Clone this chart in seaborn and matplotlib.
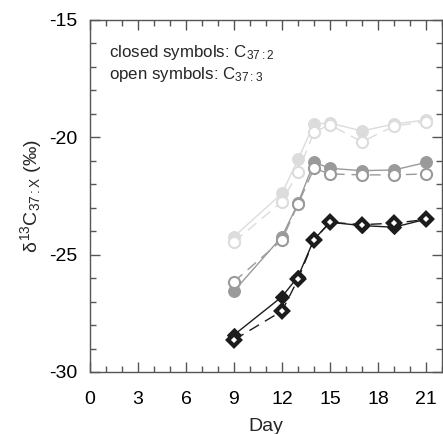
import matplotlib
matplotlib.use("Agg")
import matplotlib.pyplot as plt
from matplotlib.ticker import MultipleLocator
import numpy as np
import pandas as pd
import seaborn as sns

# Sampling days
days = [9, 12, 13, 14, 15, 17, 19, 21]

# delta13C of C37:2 (closed) and C37:3 (open) for three cultures
light_c372 = [-24.23, -22.39, -20.94, -19.43, -19.39, -19.73, -19.43, -19.26]
light_c373 = [-24.45, -22.74, -21.49, -19.77, -19.47, -20.19, -19.52, -19.33]
mid_c372 = [-26.55, -24.23, -22.81, -21.06, -21.32, -21.42, -21.39, -21.07]
mid_c373 = [-26.15, -24.37, -22.85, -21.32, -21.56, -21.60, -21.60, -21.56]
dark_c372 = [-28.42, -26.79, -25.94, -24.35, -23.62, -23.76, -23.83, -23.49]
dark_c373 = [-28.63, -27.40, -26.05, -24.36, -23.62, -23.72, -23.66, -23.50]

sns.set_style("ticks")
plt.rcParams["font.family"] = ["Liberation Sans", "DejaVu Sans"]
plt.rcParams["mathtext.fontset"] = "custom"
plt.rcParams["mathtext.rm"] = "Liberation Sans"
plt.rcParams["mathtext.it"] = "Liberation Sans"
plt.rcParams["axes.unicode_minus"] = False

fig = plt.figure(figsize=(4.43, 4.34), dpi=100)
ax = fig.add_axes([90 / 443, 1 - 372 / 434, 352 / 443, 352 / 434])

series = [
    (light_c372, "#dcdcdc", "o", True),
    (light_c373, "#dcdcdc", "o", False),
    (mid_c372, "#9a9a9a", "o", True),
    (mid_c373, "#9a9a9a", "o", False),
    (dark_c372, "#1c1c1c", "D", True),
    (dark_c373, "#1c1c1c", "D", False),
]

for i, (vals, col, mk, closed) in enumerate(series):
    df = pd.DataFrame({"Day": days, "d13C": vals})
    line_kws = dict(color=col, lw=1.0, zorder=2 + i)
    if closed:
        sns.lineplot(data=df, x="Day", y="d13C", ax=ax, linestyle="-",
                     marker=mk, markersize=8.5 if mk == "o" else 7.5,
                     markerfacecolor=col, markeredgecolor=col,
                     **line_kws)
    else:
        sns.lineplot(data=df, x="Day", y="d13C", ax=ax, linestyle=(0, (8, 5)),
                     marker=mk, markersize=8.0 if mk == "o" else 6.0,
                     markerfacecolor="white", markeredgecolor=col,
                     markeredgewidth=1.5 if mk == "o" else 3.0,
                     **line_kws)

ax.set_xlim(0, 22)
ax.set_ylim(-30, -15)
ax.xaxis.set_major_locator(MultipleLocator(3))
ax.xaxis.set_minor_locator(MultipleLocator(1))
ax.yaxis.set_major_locator(MultipleLocator(5))
ax.yaxis.set_minor_locator(MultipleLocator(1))

edge = "#555555"
for sp in ax.spines.values():
    sp.set_visible(True)
    sp.set_color(edge)
    sp.set_linewidth(1.0)
ax.tick_params(which="both", direction="in", top=True, right=True,
               color=edge, labelsize=14, labelcolor="black")
ax.tick_params(which="major", length=7, width=1.0)
ax.tick_params(which="minor", length=4, width=1.0)
ax.tick_params(axis="x", which="major", pad=14)
ax.tick_params(axis="y", which="major", pad=9)

ax.set_xlabel("Day", fontsize=14, labelpad=7)
ax.set_ylabel(r"$\delta^{13}$C$_{37{:}X}$ (‰)", fontsize=14, labelpad=4)

ax.text(0.054, 0.909, r"closed symbols: C$_{37{:}2}$", transform=ax.transAxes,
        fontsize=12.2, ha="left", va="center")
ax.text(0.054, 0.844, r"open symbols: C$_{37{:}3}$", transform=ax.transAxes,
        fontsize=12.2, ha="left", va="center")

fig.savefig("out.png", dpi=100)
